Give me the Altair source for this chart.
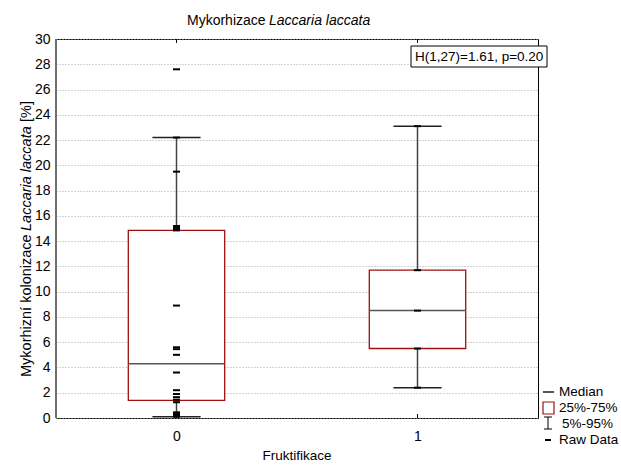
import altair as alt
import pandas as pd

# Raw observations per Fruktifikace group
raw_0 = [27.6, 22.2, 19.5, 15.2, 15.05, 14.95, 14.85, 8.9, 5.6, 5.45, 5.0, 3.6,
         2.2, 1.9, 1.65, 1.45, 1.25, 0.45, 0.35, 0.25, 0.15, 0.1]
raw_1 = [23.1, 11.7, 8.5, 5.5, 2.4]

# Box summary per group
groups = [0, 1]
p5 = [0.1, 2.4]
q1 = [1.4, 5.5]
median = [4.3, 8.5]
q3 = [14.85, 11.7]
p95 = [22.2, 23.1]

y_ticks = list(range(0, 31, 2))

FONT = "Liberation Sans"
BOX_RED = "#a01010"
W, H = 482, 379

raw = pd.DataFrame({
    "g": [0] * len(raw_0) + [1] * len(raw_1),
    "v": raw_0 + raw_1,
})
stats = pd.DataFrame({"g": groups, "p5": p5, "q1": q1, "med": median, "q3": q3, "p95": p95})

xscale = alt.Scale(domain=[-0.5, 1.5], nice=False, zero=False)
yscale = alt.Scale(domain=[0, 30], nice=False, zero=False)

x_axis = alt.Axis(values=groups, format="d", ticks=False, domain=False, grid=False,
                  labelPadding=11, labelFontSize=14, labelFont=FONT,
                  labelColor="black", title=None)
y_axis = alt.Axis(values=y_ticks, ticks=False, domain=False, grid=True, gridDash=[1, 2],
                  gridColor="#a8a8a8", labelPadding=6, labelFontSize=14, labelFont=FONT,
                  labelColor="black", title=None)


def X(field):
    return alt.X(field, type="quantitative", scale=xscale, axis=x_axis)


def Y(field):
    return alt.Y(field, type="quantitative", scale=yscale, axis=y_axis)


base = alt.Chart(stats).transform_calculate(
    bl="datum.g - 0.2", br="datum.g + 0.2",
    cl="datum.g - 0.1", cr="datum.g + 0.1",
)

whisker = base.mark_rule(color="#444", strokeWidth=1.5).encode(
    x=X("g"), y=Y("p5"), y2="p95:Q")

caps_lo = base.mark_rule(color="#222", strokeWidth=1.5).encode(
    x=X("cl"), x2="cr:Q", y=Y("p5"))
caps_hi = base.mark_rule(color="#222", strokeWidth=1.5).encode(
    x=X("cl"), x2="cr:Q", y=Y("p95"))

box = base.mark_rect(fill="white", stroke=BOX_RED, strokeWidth=1.3).encode(
    x=X("bl"), x2="br:Q", y=Y("q1"), y2="q3:Q")

med = base.mark_rule(color="#555", strokeWidth=1.5).encode(
    x=X("bl"), x2="br:Q", y=Y("med"))

points = alt.Chart(raw).transform_calculate(
    l="datum.g - 0.0145", r="datum.g + 0.0145"
).mark_rule(color="black", strokeWidth=2).encode(
    x=X("l"), x2="r:Q", y=Y("v"))

# Inward tick marks on the bottom and top frame
tick_df = pd.DataFrame({"g": groups})
ticks_bottom = alt.Chart(tick_df).mark_rule(color="black").encode(
    x=X("g"), y=alt.value(H), y2=alt.value(H - 4))
ticks_top = alt.Chart(tick_df).mark_rule(color="black").encode(
    x=X("g"), y=alt.value(0), y2=alt.value(4))

# Gray left frame edge
left_edge = alt.Chart(pd.DataFrame({"a": [0]})).mark_rule(color="#707070", strokeWidth=2).encode(
    x=alt.value(0), y=alt.value(0), y2=alt.value(H))

one = pd.DataFrame({"a": [0]})


def label(text, x, y, size=13.5, style="normal", align="left", angle=0, baseline="middle"):
    kw = dict(text=text, font=FONT, fontSize=size, fontStyle=style, align=align,
              baseline=baseline, color="black")
    if angle:
        kw["angle"] = angle
    return alt.Chart(one).mark_text(**kw).encode(x=alt.value(x), y=alt.value(y))


texts = [
    # chart title
    label("Mykorhizace", 131, -18, size=14),
    label("Laccaria laccata", 213, -18, size=14, style="italic"),
    # y-axis title
    label("Mykorhizní kolonizace", -29, 338, size=14.5, angle=270),
    label("Laccaria laccata", -29, 192, size=14.5, style="italic", angle=270),
    label("[%]", -29, 83, size=14.5, angle=270),
    # x-axis title
    label("Fruktifikace", W / 2, 417, align="center"),
]

# Test statistic annotation
stat_box = alt.Chart(one).mark_rect(fill="white", stroke="black", strokeWidth=1).encode(
    x=alt.value(355), x2=alt.value(491), y=alt.value(7), y2=alt.value(28))
stat_text = label("H(1,27)=1.61, p=0.20", 359, 18)

# Legend
leg = [
    alt.Chart(one).mark_rule(color="#555", strokeWidth=2).encode(
        x=alt.value(487), x2=alt.value(498), y=alt.value(353)),
    label("Median", 503, 353),
    alt.Chart(one).mark_rect(fill="white", stroke=BOX_RED, strokeWidth=1.2).encode(
        x=alt.value(487), x2=alt.value(498), y=alt.value(363), y2=alt.value(375)),
    label("25%-75%", 503, 369),
    alt.Chart(one).mark_rule(color="black", strokeWidth=1).encode(
        x=alt.value(492), y=alt.value(378), y2=alt.value(390)),
    alt.Chart(one).mark_rule(color="black", strokeWidth=1).encode(
        x=alt.value(488), x2=alt.value(496), y=alt.value(378)),
    alt.Chart(one).mark_rule(color="black", strokeWidth=1).encode(
        x=alt.value(488), x2=alt.value(496), y=alt.value(390)),
    label("5%-95%", 506, 385),
    alt.Chart(one).mark_rule(color="black", strokeWidth=2).encode(
        x=alt.value(489), x2=alt.value(495), y=alt.value(401)),
    label("Raw Data", 503, 401),
]

chart = alt.layer(
    whisker, caps_lo, caps_hi, box, med, points, ticks_bottom, ticks_top, left_edge,
    *texts, stat_box, stat_text, *leg
).properties(
    width=W, height=H,
    autosize=alt.AutoSizeParams(type="none"),
    padding={"left": 56, "top": 39, "right": 83, "bottom": 47},
    background="white",
).configure_view(stroke="black", strokeWidth=1)

chart.save("out.html", embed_options={"renderer": "svg", "actions": False})
